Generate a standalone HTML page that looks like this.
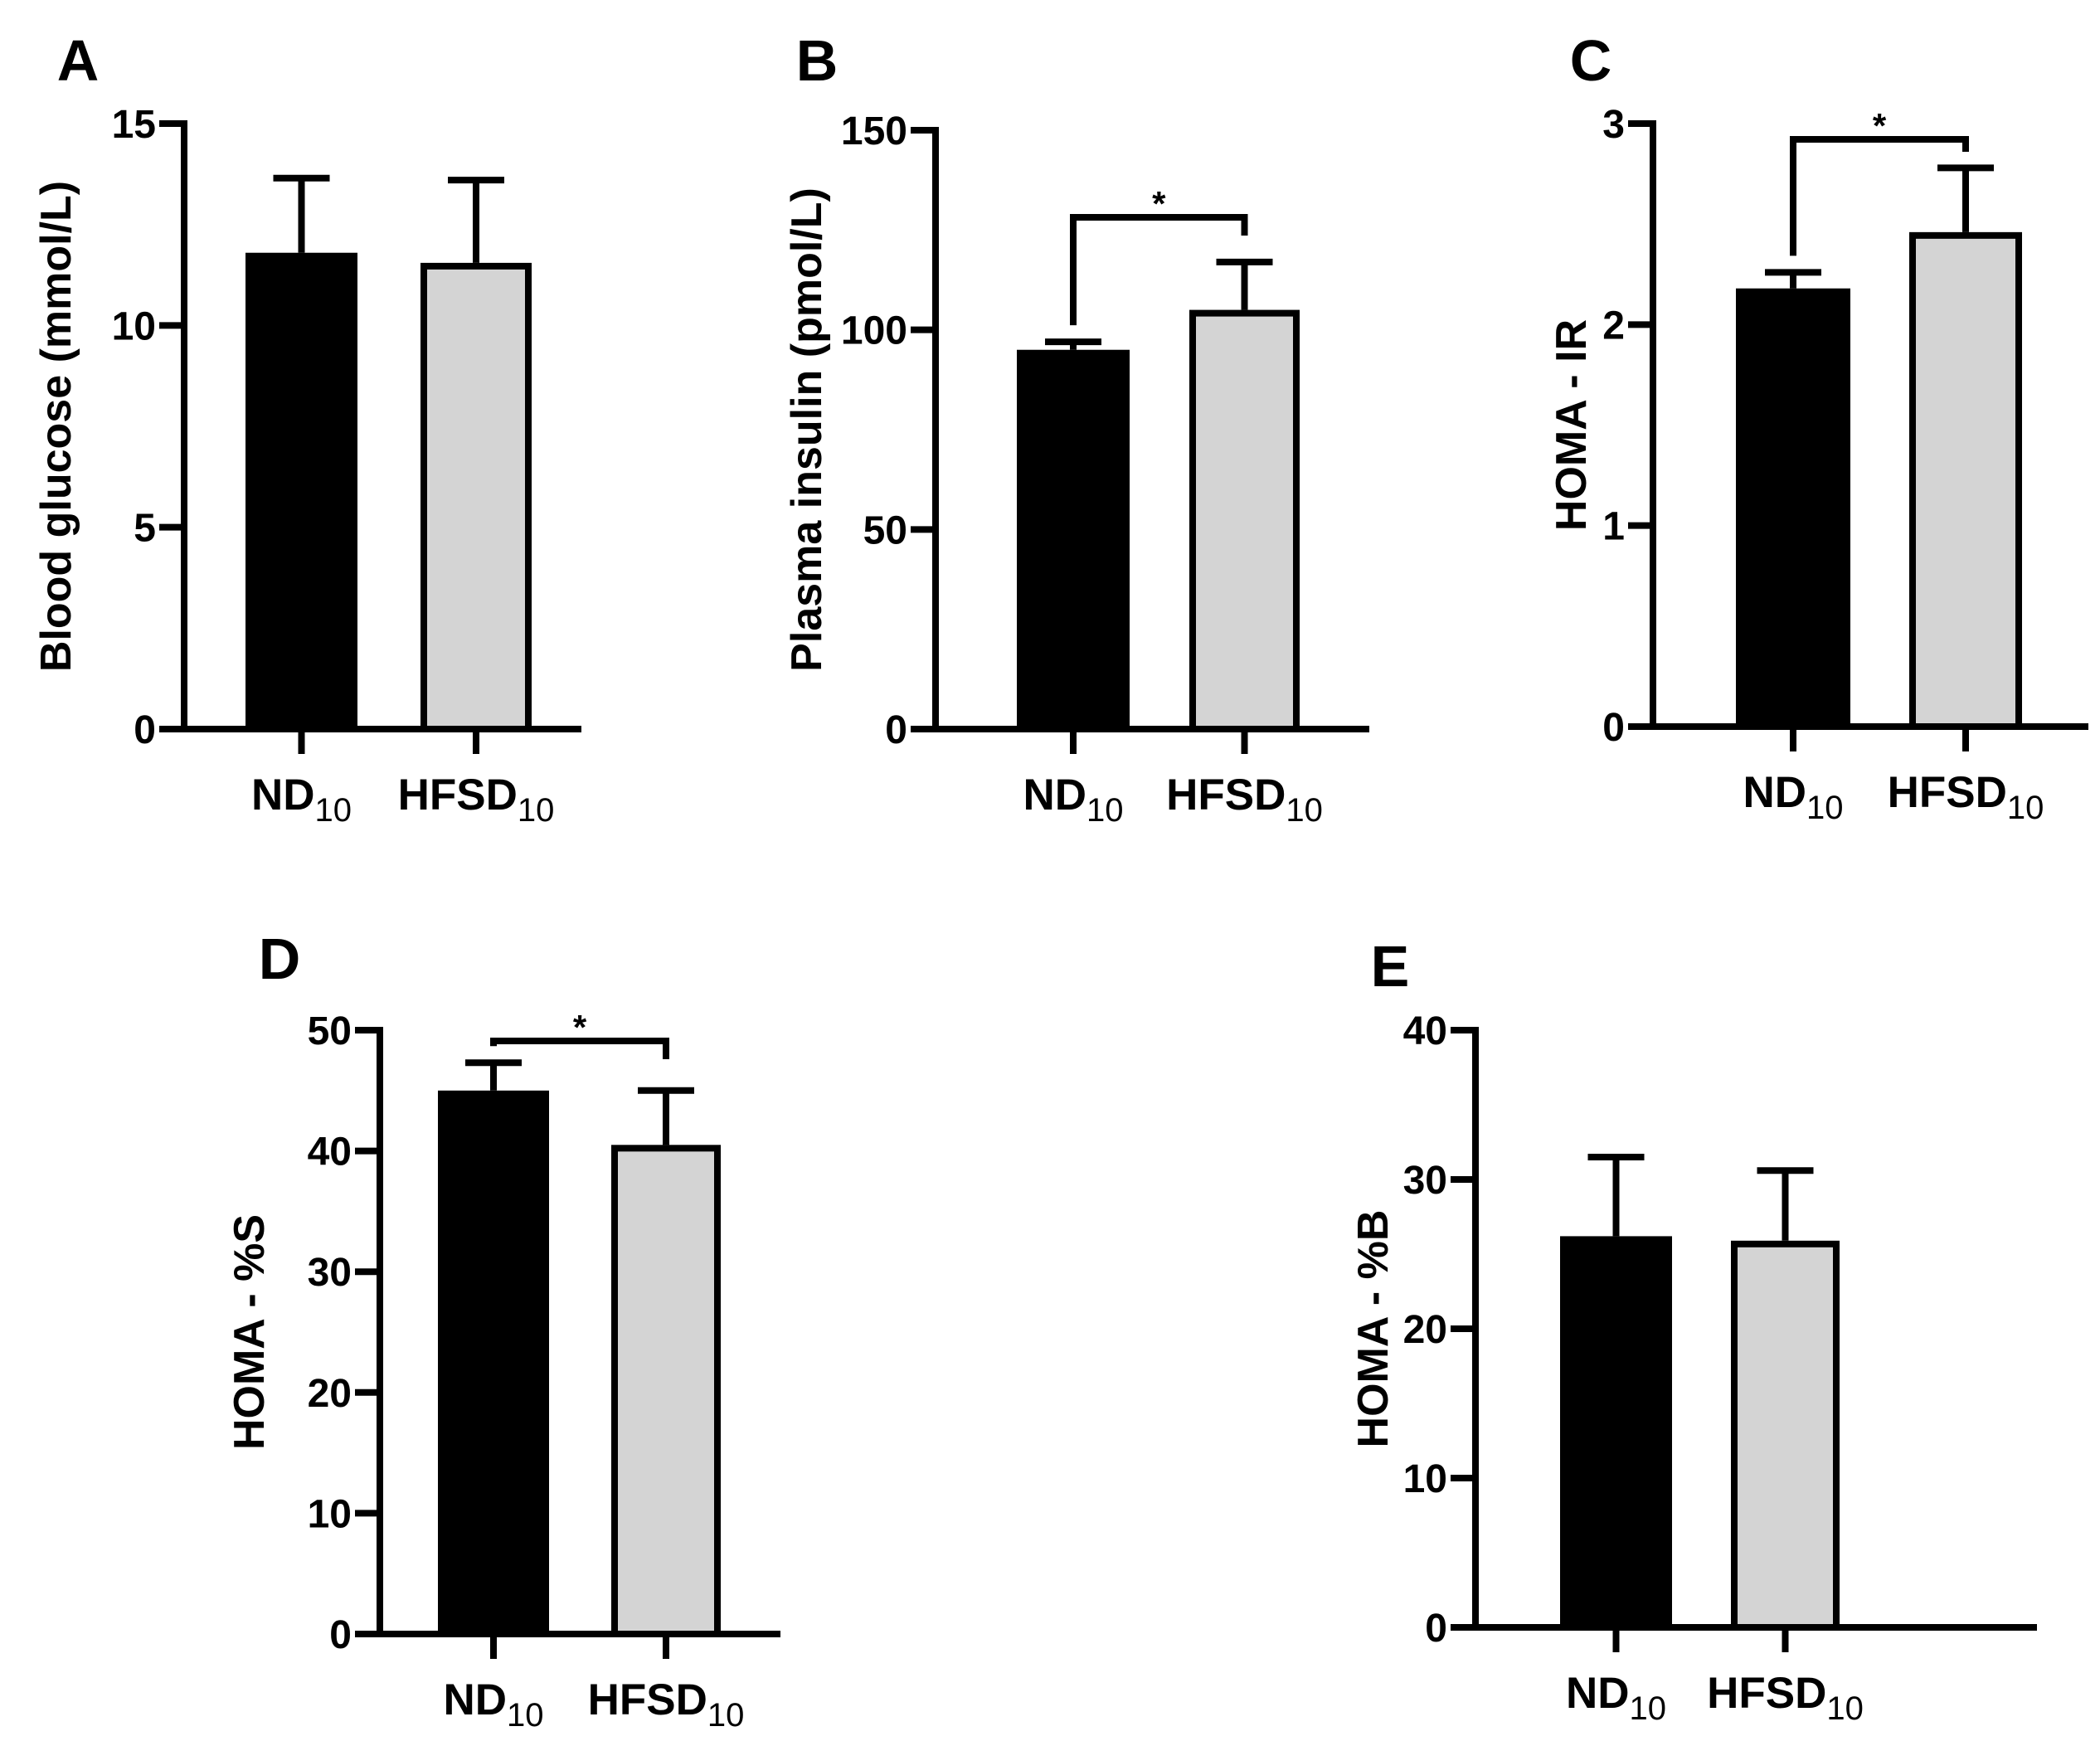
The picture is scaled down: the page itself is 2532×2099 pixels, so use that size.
<!DOCTYPE html>
<html><head><meta charset="utf-8"><style>
html,body{margin:0;padding:0;background:#fff}
svg{display:block}
text{font-family:"Liberation Sans",Arial,sans-serif;font-weight:bold;fill:#000}
</style></head><body>
<svg id="fig" width="2532" height="2099" viewBox="0 0 2532 2099" xmlns="http://www.w3.org/2000/svg"></svg>
<script>
const categories = ["ND", "HFSD"];
const glucoseMeans = [11.8, 11.55];
const glucoseErr = [13.65, 13.6];
const insulinMeans = [95, 105];
const insulinErr = [97, 117];
const homaIrMeans = [2.18, 2.46];
const homaIrErr = [2.26, 2.78];
const homaSMeans = [45, 40.5];
const homaSErr = [47.3, 45];
const homaBMeans = [26.2, 25.9];
const homaBErr = [31.5, 30.6];
const ticksA = [0, 5, 10, 15];
const ticksB = [0, 50, 100, 150];
const ticksC = [0, 1, 2, 3];
const ticksD = [0, 10, 20, 30, 40, 50];
const ticksE = [0, 10, 20, 30, 40];

const NS = "http://www.w3.org/2000/svg";
const svg = document.getElementById("fig");
const LW = 8;
function el(tag, attrs, parent) {
  const e = document.createElementNS(NS, tag);
  for (const k in attrs) e.setAttribute(k, attrs[k]);
  (parent || svg).appendChild(e);
  return e;
}
const panels = [
  {id:"a", letter:"A", lx:94, ly:97, ax:222, yTop:149, y0:879, xEnd:701, bars:[[296,431],[507,641]], means:glucoseMeans, err:glucoseErr, ticks:ticksA, title:"Blood glucose (mmol/L)", tx:73, sig:null},
  {id:"b", letter:"B", lx:985, ly:97, ax:1128, yTop:157, y0:879, xEnd:1651, bars:[[1226,1362],[1434,1567]], means:insulinMeans, err:insulinErr, ticks:ticksB, title:"Plasma insulin (pmol/L)", tx:978, sig:{y:262}},
  {id:"c", letter:"C", lx:1918, ly:97, ax:1993, yTop:149, y0:876, xEnd:2518, bars:[[2093,2231],[2302,2438]], means:homaIrMeans, err:homaIrErr, ticks:ticksC, title:"HOMA - IR", tx:1900, sig:{y:168}},
  {id:"d", letter:"D", lx:337, ly:1180, ax:458, yTop:1242, y0:1970, xEnd:941, bars:[[528,662],[737,869]], means:homaSMeans, err:homaSErr, ticks:ticksD, title:"HOMA - %S", tx:306, sig:{y:1255}},
  {id:"e", letter:"E", lx:1676, ly:1189, ax:1779, yTop:1242, y0:1962, xEnd:2456, bars:[[1881,2016],[2087,2218]], means:homaBMeans, err:homaBErr, ticks:ticksE, title:"HOMA - %B", tx:1661, sig:null}
];
panels.forEach(p => {
  const g = el("g", {});
  
  
  const tmax = p.ticks[p.ticks.length - 1];
  const y = v => p.y0 - (v / tmax) * (p.y0 - p.yTop);
  const lt = el("text", {x:p.lx, y:p.ly, "font-size":70, "text-anchor":"middle"}, g);
  lt.textContent = p.letter;
  
  
  p.bars.forEach((b, i) => {
    const cx = (b[0] + b[1]) / 2;
    const top = y(p.means[i]);
    const eTop = y(p.err[i]);
    const eb = el("g", {}, g);
    
    
    el("line", {x1:cx, x2:cx, y1:top, y2:eTop, stroke:"#000", "stroke-width":LW}, eb);
    el("line", {x1:cx - 34, x2:cx + 34, y1:eTop, y2:eTop, stroke:"#000", "stroke-width":LW}, eb);
    const r = el("rect", {x:b[0] + LW/2, y:top + LW/2, width:b[1] - b[0] - LW, height:p.y0 - top - LW/2, fill: i === 0 ? "#000" : "#d4d4d4", stroke:"#000", "stroke-width":LW}, g);
    
    
    el("line", {x1:cx, x2:cx, y1:p.y0, y2:p.y0 + 30, stroke:"#000", "stroke-width":LW}, g);
    const t = el("text", {x:cx, y:p.y0 + 97, "font-size":53, "text-anchor":"middle"}, g);
    
    
    t.appendChild(document.createTextNode(categories[i]));
    const s = el("tspan", {"font-size":40, dy:14, "font-weight":"normal"}, t);
    s.textContent = "10";
  });
  const ya = el("line", {x1:p.ax, x2:p.ax, y1:p.yTop - LW/2, y2:p.y0, stroke:"#000", "stroke-width":LW}, g);
  
  
  const xa = el("line", {x1:p.ax - 30, x2:p.xEnd, y1:p.y0, y2:p.y0, stroke:"#000", "stroke-width":LW}, g);
  
  
  p.ticks.forEach(v => {
    const ty = y(v);
    el("line", {x1:p.ax - 30, x2:p.ax, y1:ty, y2:ty, stroke:"#000", "stroke-width":LW}, g);
    const tt = el("text", {x:p.ax - 34, y:ty + 17, "font-size":48, "text-anchor":"end"}, g);
    tt.textContent = v;
    
    
  });
  const cy = (p.yTop + p.y0) / 2;
  const yt = el("text", {x:0, y:0, "font-size":52, "text-anchor":"middle", transform:"translate(" + (p.tx + 12) + "," + cy + ") rotate(-90)"}, g);
  yt.textContent = p.title;
  
  
  if (p.sig) {
    const c0 = (p.bars[0][0] + p.bars[0][1]) / 2, c1 = (p.bars[1][0] + p.bars[1][1]) / 2;
    const by = p.sig.y;
    const l0 = Math.max(by, y(p.err[0]) - 20), l1 = Math.max(by + 15, Math.min(by + 22, y(p.err[1]) - 20));
    const br = el("path", {d:"M" + c0 + "," + l0 + " L" + c0 + "," + by + " L" + c1 + "," + by + " L" + c1 + "," + l1, fill:"none", stroke:"#000", "stroke-width":LW}, g);
    
    
    const st = el("text", {x:(c0 + c1) / 2, y:by - 2, "font-size":42, "font-weight":"normal", "text-anchor":"middle"}, g);
    st.textContent = "*";
    
    
  }
});
</script>
</body></html>
